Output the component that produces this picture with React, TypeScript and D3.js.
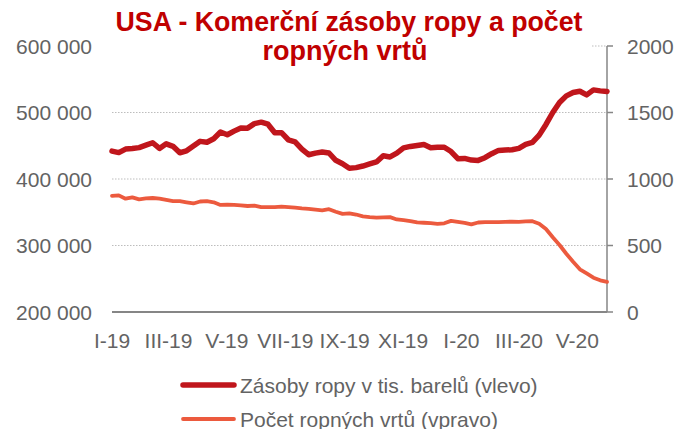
import React from "react";
import * as d3 from "d3";

// Weekly data, Jan 2019 – May 2020
const stocks: number[] = [
  441.9, 439.7, 445.0, 445.9, 447.2, 450.8, 454.5, 445.9, 452.9, 449.1,
  439.5, 442.3, 449.5, 456.6, 455.2, 460.6, 470.6, 466.6, 472.0, 476.8,
  476.5, 483.3, 485.5, 482.4, 469.6, 469.6, 459.0, 455.9, 445.0, 436.5,
  438.9, 440.5, 439.1, 428.1, 423.0, 416.1, 417.1, 419.5, 422.6, 425.6,
  434.9, 433.2, 438.9, 446.8, 449.0, 450.4, 451.9, 447.1, 447.9, 447.8,
  441.3, 430.5,
  431.0, 428.5, 428.0, 432.0, 438.0, 443.0, 443.5, 444.0, 446.0, 452.0,
  455.0, 466.0, 482.0, 500.0, 515.0, 525.0, 530.0, 532.0, 526.5, 534.0,
  532.5, 531.5,
].map((v) => v * 1000);

const rigs: number[] = [
  873, 877, 852, 862, 847, 854, 857, 853, 843, 834,
  833, 824, 816, 831, 833, 825, 805, 807, 805, 802,
  797, 800, 789, 788, 789, 793, 788, 784, 779, 776,
  770, 764, 773, 754, 738, 742, 733, 719, 713, 710,
  712, 713, 696, 691, 684, 674, 671, 668, 663, 667,
  685, 677,
  670, 659, 673, 676, 675, 676, 678, 679, 678, 682,
  683, 664, 624, 562, 504, 438, 378, 321, 290, 258,
  238, 226, 221,
].slice(0, 74);

const tickLabels: string[] = ["I-19", "III-19", "V-19", "VII-19", "IX-19", "XI-19", "I-20", "III-20", "V-20"];
const leftTicks: number[] = [200000, 300000, 400000, 500000, 600000];
const rightTicks: number[] = [0, 500, 1000, 1500, 2000];
const titleLines: string[] = ["USA - Komerční zásoby ropy a počet", "ropných vrtů"];
const legendLabels: string[] = ["Zásoby ropy v tis. barelů (vlevo)", "Počet ropných vrtů (vpravo)"];

const startDate = new Date(2019, 0, 1);
const endDate = new Date(2020, 5, 1);

const RED = "#C0161C";
const ORANGE = "#EC5A3E";
const GRAY = "#636363";
const FONT = "'Liberation Sans', Arial, sans-serif";

export default function App() {
  const left = 112, right = 607, top = 46, bottom = 312;
  const n = stocks.length;
  const span = endDate.getTime() - startDate.getTime();
  const dates = stocks.map((_, i) => new Date(startDate.getTime() + (i * span) / (n - 1)));

  const x = d3.scaleTime().domain([startDate, endDate]).range([left, right]);
  const yL = d3.scaleLinear().domain([200000, 600000]).range([bottom, top]);
  const yR = d3.scaleLinear().domain([0, 2000]).range([bottom, top]);
  const tickDates = d3.timeMonth.every(2)!.range(startDate, endDate);

  const fmt = d3.formatLocale({ decimal: ",", thousands: " ", grouping: [3], currency: ["", ""] }).format(",");

  const stockLine = d3.line<number>().x((_, i) => x(dates[i])).y((d) => yL(d))(stocks) || "";
  const rigLine = d3.line<number>().x((_, i) => x(dates[i])).y((d) => yR(d))(rigs) || "";

  return (
    <svg width={675} height={429} style={{ position: "absolute", left: 0, top: 0, background: "#fff" }} fontFamily={FONT}>
      {/* gridlines */}
      {leftTicks.slice(1).map((t) => (
        <line key={t} x1={left} x2={right} y1={yL(t)} y2={yL(t)} stroke="#BDBDBD" strokeWidth={1} strokeDasharray="1.5 1.5" />
      ))}
      {/* title backdrop */}
      <rect x={100} y={0} width={492} height={70} fill="#fff" />
      <text x={349} y={31} textAnchor="middle" fontSize={28} fontWeight="bold" fill="#C00000" textLength={467} lengthAdjust="spacingAndGlyphs">{titleLines[0]}</text>
      <text x={345} y={60} textAnchor="middle" fontSize={28} fontWeight="bold" fill="#C00000" textLength={165} lengthAdjust="spacingAndGlyphs">{titleLines[1]}</text>

      {/* left labels */}
      {leftTicks.map((t) => (
        <text key={t} x={92} y={yL(t) + 7.5} textAnchor="end" fontSize={21} fill={GRAY}>{fmt(t)}</text>
      ))}
      {/* right axis */}
      <line x1={right} x2={right} y1={top} y2={bottom} stroke="#868686" strokeWidth={1.5} />
      {rightTicks.map((t) => (
        <g key={t}>
          <line x1={right} x2={right + 6} y1={yR(t)} y2={yR(t)} stroke="#868686" strokeWidth={1.5} />
          <text x={627} y={yR(t) + 7.5} fontSize={21} fill={GRAY}>{t}</text>
        </g>
      ))}
      {/* bottom axis */}
      <line x1={left} x2={right} y1={bottom} y2={bottom} stroke="#868686" strokeWidth={2} />
      {tickDates.map((d, i) => (
        <text key={i} x={x(d)} y={348} textAnchor="middle" fontSize={21} fill={GRAY}>{tickLabels[i]}</text>
      ))}

      {/* series */}
      <path d={rigLine} fill="none" stroke={ORANGE} strokeWidth={3.8} strokeLinejoin="round" strokeLinecap="round" />
      <path d={stockLine} fill="none" stroke={RED} strokeWidth={5.5} strokeLinejoin="round" strokeLinecap="round" />

      {/* legend */}
      <line x1={183} x2={234} y1={385} y2={385} stroke={RED} strokeWidth={5.5} strokeLinecap="round" />
      <text x={240} y={392.5} fontSize={21} fill={GRAY}>{legendLabels[0]}</text>
      <line x1={183} x2={234} y1={419} y2={419} stroke={ORANGE} strokeWidth={3.8} strokeLinecap="round" />
      <text x={240} y={426.5} fontSize={21} fill={GRAY}>{legendLabels[1]}</text>
    </svg>
  );
}
